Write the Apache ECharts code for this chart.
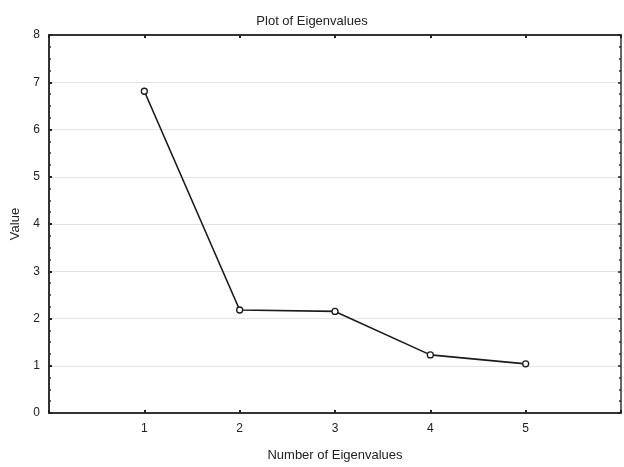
<!DOCTYPE html>
<html>
<head>
<meta charset="utf-8">
<script src="https://cdn.jsdelivr.net/npm/echarts@6/dist/echarts.min.js"></script>
<style>
html,body{margin:0;padding:0;background:#fff;}
#main{width:624px;height:467px;}
</style>
</head>
<body>
<div id="main"></div>
<script>
var eigenNumbers = [1, 2, 3, 4, 5];
var eigenValues = [6.81, 2.18, 2.15, 1.23, 1.04];

var chart = echarts.init(document.getElementById('main'));

var pts = [];
for (var i = 0; i < eigenNumbers.length; i++) {
  pts.push([eigenNumbers[i], eigenValues[i]]);
}

var font = 'Liberation Sans, Arial, sans-serif';

var option = {
  backgroundColor: '#fff',
  animation: false,
  title: {
    text: 'Plot of Eigenvalues',
    left: 'center',
    top: 10,
    textStyle: {fontFamily: font, fontSize: 13, fontWeight: 'normal', color: '#222'}
  },
  grid: {left: 49, right: 1, top: 35, bottom: 48},
  xAxis: [{
    type: 'value',
    min: 0, max: 6, interval: 1,
    name: 'Number of Eigenvalues',
    nameLocation: 'middle',
    nameGap: 36,
    nameTextStyle: {fontFamily: font, fontSize: 13, color: '#222'},
    axisLine: {onZero: false, lineStyle: {color: '#333', width: 2}},
    axisTick: {inside: true, length: 3, lineStyle: {color: '#222', width: 2}},
    axisLabel: {
      fontFamily: font, fontSize: 12, color: '#222', margin: 10,
      formatter: function (v) { return (v === 0 || v === 6) ? '' : v; }
    },
    splitLine: {show: false}
  }, {
    type: 'value',
    position: 'top',
    min: 0, max: 6, interval: 1,
    axisLine: {show: true, onZero: false, lineStyle: {color: '#333', width: 2}},
    axisTick: {inside: true, length: 3, lineStyle: {color: '#222', width: 2}},
    axisLabel: {show: false},
    splitLine: {show: false}
  }],
  yAxis: [{
    type: 'value',
    min: 0, max: 8, interval: 1,
    name: 'Value',
    nameLocation: 'middle',
    nameGap: 27,
    nameTextStyle: {fontFamily: font, fontSize: 13, color: '#222'},
    axisLine: {show: true, onZero: false, lineStyle: {color: '#333', width: 2}},
    axisTick: {inside: true, length: 3, lineStyle: {color: '#222', width: 2}},
    minorTick: {show: true, splitNumber: 4, length: 2, lineStyle: {color: '#333', width: 1.5}},
    axisLabel: {fontFamily: font, fontSize: 12, color: '#222', margin: 9},
    splitLine: {show: true, lineStyle: {color: '#e4e4e4', width: 1}}
  }, {
    type: 'value',
    position: 'right',
    min: 0, max: 8, interval: 1,
    axisLine: {show: true, onZero: false, lineStyle: {color: '#333', width: 1.5}},
    axisTick: {show: true, inside: true, length: 3, lineStyle: {color: '#222', width: 1.5}},
    minorTick: {show: true, splitNumber: 4, length: 2, lineStyle: {color: '#333', width: 1.5}},
    axisLabel: {show: false},
    splitLine: {show: false}
  }],
  series: [{
    type: 'line',
    data: pts,
    symbol: 'circle',
    symbolSize: 6,
    lineStyle: {color: '#1a1a1a', width: 1.6},
    itemStyle: {color: '#fff', borderColor: '#1a1a1a', borderWidth: 1.3},
    z: 5
  }]
};

chart.setOption(option);
</script>
</body>
</html>
